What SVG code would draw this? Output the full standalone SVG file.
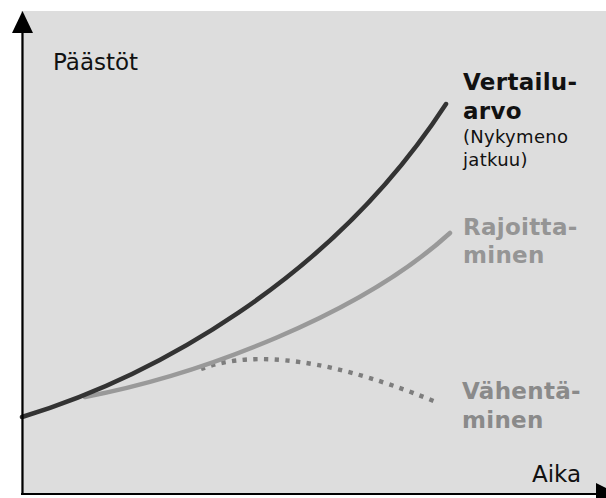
<svg xmlns="http://www.w3.org/2000/svg" width="606" height="498" viewBox="0 0 606 498">
<style>
.t{font-family:"DejaVu Sans","Verdana",sans-serif}
.ax{stroke:#000;stroke-width:2.2;fill:none}
.c{fill:none;stroke-width:4.5;stroke-linecap:round}
.b{font-size:23px;font-weight:bold;letter-spacing:0.3px}
</style>
<rect x="0" y="0" width="606" height="498" fill="#fff"/>
<rect x="21" y="11" width="585" height="483" fill="#dddddd"/>
<g id="connectors">
<path id="dotted" d="M201,369 C240,354 310,350 436,402" fill="none" stroke="#7d7d7d" stroke-width="4.4" stroke-dasharray="4.3 6.4"/>
<path id="gray" class="c" d="M85,397 C200,375 360,315 450,233" stroke="#999999"/>
<path id="black" class="c" d="M22,417 C150,378 330,282 446,104" stroke="#333333"/>
</g>
<g id="axes">
<line class="ax" x1="22.5" y1="494" x2="22.5" y2="30"/>
<polygon points="12,33 33,33 22.5,11" fill="#000"/>
<line class="ax" x1="21" y1="494" x2="598" y2="494"/>
<polygon points="596,483 596,505 618,494" fill="#000"/>
</g>
<g id="labels" class="t">
<text x="53" y="70" font-size="23" fill="#111">Päästöt</text>
<text x="532" y="482" font-size="23" fill="#111">Aika</text>
<g id="vertailu">
<text x="463" y="90" class="b" fill="#111">Vertailu-</text>
<text x="463" y="119" class="b" fill="#111">arvo</text>
<text x="463" y="143" font-size="18" letter-spacing="0.3" fill="#111">(Nykymeno</text>
<text x="463" y="166" font-size="18" letter-spacing="0.3" fill="#111">jatkuu)</text>
</g>
<g id="rajoitta">
<text x="463" y="235" class="b" fill="#959595">Rajoitta-</text>
<text x="463" y="263" class="b" fill="#959595">minen</text>
</g>
<g id="vahenta">
<text x="462" y="399" class="b" fill="#8a8a8a">Vähentä-</text>
<text x="462" y="428" class="b" fill="#8a8a8a">minen</text>
</g>
</g>
</svg>
